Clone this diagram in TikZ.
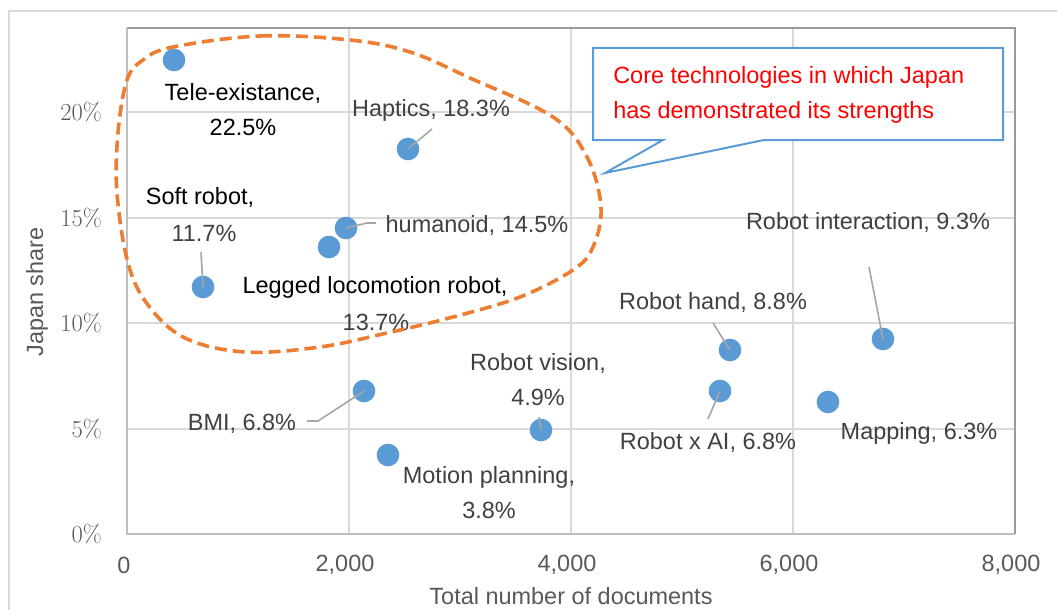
\documentclass[tikz,border=0pt]{standalone}
\usepackage{fontspec}
\newfontfamily\lab{Liberation Sans}
\definecolor{gridc}{HTML}{D9D9D9}
\definecolor{axisc}{HTML}{BFBFBF}
\definecolor{framec}{HTML}{9A9A9A}
\definecolor{dotc}{HTML}{5B9BD5}
\definecolor{labc}{HTML}{404040}
\definecolor{leadc}{HTML}{A6A6A6}
\definecolor{axc}{HTML}{595959}
\definecolor{orangec}{HTML}{ED7D31}
\definecolor{bluec}{HTML}{5B9BD5}
\begin{document}
\begin{tikzpicture}[x=0.75pt,y=-0.75pt,
  gridl/.style={draw=gridc, line width=1.5pt},
  axisl/.style={draw=axisc, line width=1.6pt},
  framel/.style={draw=framec, line width=1.3pt},
  dot/.style={circle, fill=dotc, minimum size=17pt, inner sep=0pt},
  lbl/.style={font=\lab\fontsize{17.6}{26.25}\selectfont, text=labc, inner sep=0pt, align=center},
  lblk/.style={lbl, text=black},
  lead/.style={draw=leadc, line width=1.2pt},
  ytick/.style={font=\fontsize{18.4}{22}\selectfont, text=axc, anchor=east, inner sep=0pt},
  xtick/.style={lbl, text=axc},
  outline/.style={draw=orangec, line width=2.7pt, dash pattern=on 9pt off 4.5pt},
  callout/.style={draw=bluec, line width=1.5pt, fill=white}
]
\useasboundingbox (0,0) rectangle (1057,610);
\fill[white] (0,0) rectangle (1057,610);
% outer chart frame
\draw[draw=gridc, line width=1.3pt] (9,610) -- (9,11) -- (1057,11);
% gridlines
\foreach \gx in {349,571,793} \draw[gridl] (\gx,28) -- (\gx,534);
\foreach \gy in {429,323,218,112} \draw[gridl] (127,\gy) -- (1015,\gy);
% plot frame
\draw[framel] (127,28) -- (1015,28) -- (1015,534);
\draw[axisl] (127,28) -- (127,534) -- (1015,534);
% tick labels
\node[ytick] (y0) at (102,534) {0\%};
\node[ytick] (y5) at (102,429) {5\%};
\node[ytick] (y10) at (102,323) {10\%};
\node[ytick] (y15) at (102,218) {15\%};
\node[ytick] (y20) at (102,112) {20\%};
\node[xtick] (x0) at (124,565) {0};
\node[xtick] (x2) at (345,565) {2,000};
\node[xtick] (x4) at (567,565) {4,000};
\node[xtick] (x6) at (789,565) {6,000};
\node[xtick] (x8) at (1011,565) {8,000};
\node[xtick] (xt) at (571,596) {Total number of documents};
\node[xtick, rotate=90] (yt) at (37,292) {Japan share};
% data points
\node[dot] (tele) at (174,60) {};
\node[dot] (hapt) at (408,149) {};
\node[dot] (huma) at (346,228) {};
\node[dot] (legg) at (329,247) {};
\node[dot] (soft) at (203,287) {};
\node[dot] (bmi) at (364,391) {};
\node[dot] (moti) at (388,455) {};
\node[dot] (visi) at (541,430) {};
\node[dot] (hand) at (730,350) {};
\node[dot] (rai) at (720,391) {};
\node[dot] (inte) at (883,339) {};
\node[dot] (mapp) at (828,402) {};
% leader line ends
\coordinate (hapt-e) at (432,129);
\coordinate (huma-k) at (367,223);
\coordinate (huma-e) at (376,223);
\coordinate (soft-e) at (201,252);
\coordinate (bmi-k) at (318,421);
\coordinate (bmi-e) at (307,421);
\coordinate (visi-e) at (539,417);
\coordinate (hand-e) at (713,323);
\coordinate (rai-e) at (708,419);
\coordinate (inte-e) at (869,267);
\draw[lead] (hapt.center) -- (hapt-e);
\draw[lead] (huma.center) -- (huma-k) -- (huma-e);
\draw[lead] (soft.center) -- (soft-e);
\draw[lead] (bmi.center) -- (bmi-k) -- (bmi-e);
\draw[lead] (visi.center) -- (visi-e);
\draw[lead] (hand.center) -- (hand-e);
\draw[lead] (rai.center) -- (rai-e);
\draw[lead] (inte.center) -- (inte-e);
% labels
\node[lblk] (l-tele) at (243,109.5) {Tele-existance,\\22.5\%};
\node[lbl] (l-hapt) at (431,110) {Haptics, 18.3\%};
\node[lblk] (l-soft1) at (200,197) {Soft robot,};
\node[lbl] (l-soft2) at (204,233) {11.7\%};
\node[lblk] (l-legg1) at (375,287) {Legged locomotion robot,};
\node[lbl] (l-legg2) at (376,322) {13.7\%};
\node[lbl] (l-huma) at (477,225) {humanoid, 14.5\%};
\node[lbl] (l-bmi) at (242,424) {BMI, 6.8\%};
\node[lbl] (l-visi) at (538,379.5) {Robot vision,\\4.9\%};
\node[lbl] (l-moti) at (489,492.5) {Motion planning,\\3.8\%};
\node[lbl] (l-hand) at (713,302) {Robot hand, 8.8\%};
\node[lbl] (l-rai) at (708,442) {Robot x AI, 6.8\%};
\node[lbl] (l-inte) at (868,222) {Robot interaction, 9.3\%};
\node[lbl] (l-mapp) at (919,433) {Mapping, 6.3\%};
% orange dashed outline
\draw[outline] plot[smooth cycle, tension=0.6] coordinates {
  (173,47) (260,36) (350,40) (410,52) (470,78) (553,117) (587,157)
  (601,207) (593,247) (573,270) (520,297) (453,317) (387,333) (320,347)
  (245,352) (185,338) (148,305) (128,263) (117,193) (118,133) (127,80) (143,60)};
% callout
\draw[callout] (593,48) -- (1003,48) -- (1003,140) -- (764,140) -- (605,173) -- (663,140) -- (593,140) -- cycle;
\node[lbl, text=red, align=left, anchor=west] (call) at (613,94.5) {Core technologies in which Japan\\has demonstrated its strengths};
\end{tikzpicture}
\end{document}
